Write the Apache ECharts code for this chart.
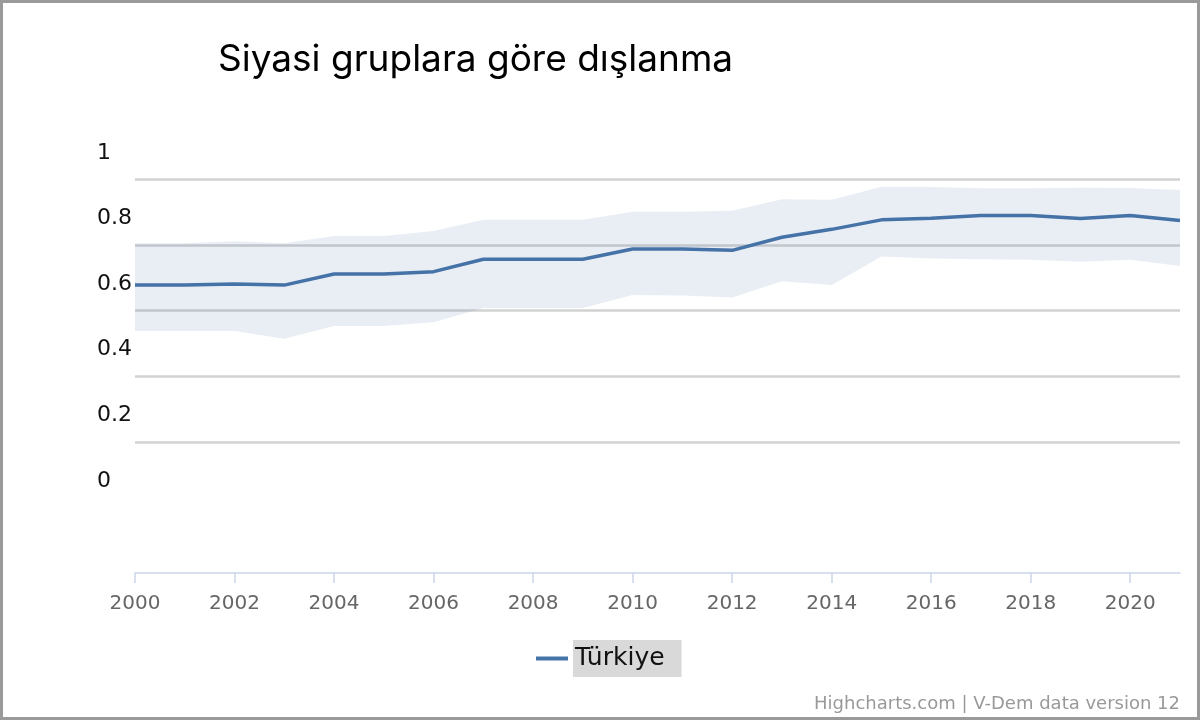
<!DOCTYPE html>
<html>
<head>
<meta charset="utf-8">
<script src="https://cdn.jsdelivr.net/npm/echarts@6/dist/echarts.min.js"></script>
<style>
  html, body { margin: 0; padding: 0; background: #fff; }
  #chart { width: 1200px; height: 720px; }
</style>
</head>
<body>
<div id="chart"></div>
<script>
var years = ['2000', '2001', '2002', '2003', '2004', '2005', '2006', '2007', '2008', '2009', '2010',
  '2011', '2012', '2013', '2014', '2015', '2016', '2017', '2018', '2019', '2020', '2021']
// median estimate
var turkiye = [0.588, 0.588, 0.591, 0.588, 0.622, 0.622, 0.629, 0.667, 0.667, 0.667, 0.698,
  0.698, 0.694, 0.734, 0.758, 0.787, 0.792, 0.800, 0.800, 0.791, 0.800, 0.785]
// confidence band
var upper = [0.716, 0.716, 0.722, 0.716, 0.738, 0.738, 0.753, 0.787, 0.787, 0.787, 0.812,
  0.812, 0.815, 0.850, 0.848, 0.888, 0.887, 0.883, 0.883, 0.885, 0.884, 0.878]
var lower = [0.448, 0.448, 0.448, 0.424, 0.463, 0.463, 0.475, 0.518, 0.518, 0.518, 0.558,
  0.556, 0.550, 0.600, 0.588, 0.675, 0.669, 0.667, 0.665, 0.659, 0.665, 0.646]
var yTicks = [0, 0.2, 0.4, 0.6, 0.8, 1]

var chart = echarts.init(document.getElementById('chart'))

// band drawn as stacked area: lower + (upper - lower)
var bandWidth = upper.map(function (u, i) { return +(u - lower[i]).toFixed(3) })

var option = {
  animation: false,
  title: {
    text: 'Siyasi gruplara göre dışlanma',
    left: 213,
    top: 36,
    textStyle: {
      fontFamily: 'Inter',
      fontSize: 37,
      fontWeight: 'normal',
      color: '#000'
    }
  },
  grid: {
    left: 135,
    right: 20,
    top: 150,
    bottom: 147
  },
  legend: {
    data: ['Türkiye'],
    left: 531,
    top: 635,
    icon: 'rect',
    itemWidth: 32,
    itemHeight: 4,
    textStyle: {
      fontFamily: 'DejaVu Sans',
      fontSize: 25,
      color: '#111',
      backgroundColor: '#d9d9d9',
      padding: [5, 17, 7, 2]
    }
  },
  xAxis: {
    type: 'category',
    data: years,
    boundaryGap: false,
    axisLine: { onZero: false, lineStyle: { color: '#ccd6eb', width: 1.5 } },
    axisTick: { interval: 1, length: 10, lineStyle: { color: '#ccd6eb', width: 1.5 } },
    splitLine: { show: false },
    axisLabel: {
      interval: 1,
      margin: 21,
      fontFamily: 'DejaVu Sans',
      fontSize: 20,
      color: '#666'
    }
  },
  yAxis: [
    {
      type: 'value',
      min: -0.29,
      max: 1,
      axisLine: { show: false },
      axisTick: { show: false },
      splitLine: { show: false },
      axisLabel: {
        customValues: yTicks,
        align: 'left',
        margin: 38,
        formatter: function (v) { return '{t|' + v + '}' },
        rich: {
          t: {
            padding: [6, 0, 0, 0],
            fontFamily: 'DejaVu Sans',
            fontSize: 22,
            color: '#111'
          }
        }
      }
    },
    {
      // gridlines drawn by Highcharts sit ~0.09 below each label
      type: 'value',
      min: -0.29,
      max: 1,
      position: 'left',
      axisLine: { show: false },
      axisLabel: { show: false },
      axisTick: { show: false, customValues: yTicks.slice(1).map(function (v) { return +(v - 0.09).toFixed(2) }) },
      splitLine: { show: true, lineStyle: { color: '#d2d2d2', width: 2.5 } }
    }
  ],
  series: [
    {
      name: 'lower',
      type: 'line',
      data: lower,
      stack: 'band',
      symbol: 'none',
      lineStyle: { opacity: 0 },
      silent: true
    },
    {
      name: 'band',
      type: 'line',
      data: bandWidth,
      stack: 'band',
      symbol: 'none',
      lineStyle: { opacity: 0 },
      areaStyle: { color: 'rgba(69,114,167,0.17)' },
      silent: true
    },
    {
      name: 'Türkiye',
      type: 'line',
      data: turkiye,
      symbol: 'none',
      itemStyle: { color: '#4572a7' },
      lineStyle: { color: '#4572a7', width: 3.5 }
    }
  ],
  graphic: [
    {
      type: 'text',
      right: 20,
      top: 695,
      style: {
        text: 'Highcharts.com | V-Dem data version 12',
        font: '18px "DejaVu Sans"',
        fill: '#999'
      }
    },
    {
      type: 'rect',
      shape: { x: 1.5, y: 1.5, width: 1197, height: 717 },
      style: { fill: 'none', stroke: '#9a9a9a', lineWidth: 3 },
      silent: true
    }
  ]
}

chart.setOption(option)
</script>
</body>
</html>
